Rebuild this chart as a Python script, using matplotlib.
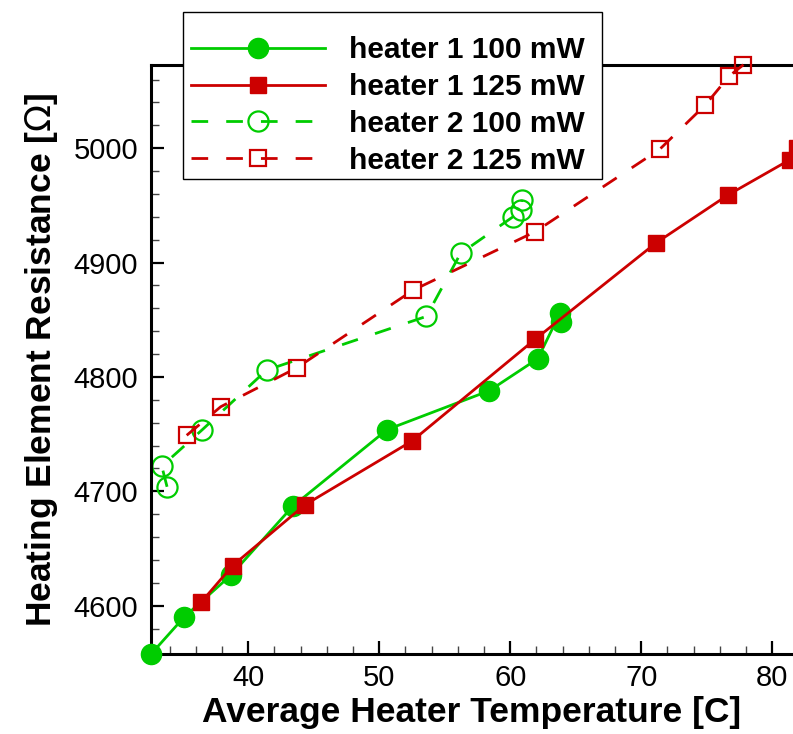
import matplotlib
matplotlib.use("Agg")
import matplotlib.pyplot as plt
from matplotlib.ticker import MultipleLocator
from matplotlib.patches import Rectangle

plt.rcParams['font.family'] = ['Liberation Sans', 'DejaVu Sans']

# average heater temperature [C] and element resistance [Ohm]
h1_100_T = [32.6, 35.1, 38.7, 43.4, 50.6, 58.4, 62.1, 63.8, 63.9]
h1_100_R = [4558, 4590, 4627, 4687, 4754, 4788, 4816, 4856, 4848]

h1_125_T = [36.4, 38.8, 44.3, 52.5, 61.9, 71.1, 76.6, 81.35, 81.9]
h1_125_R = [4603, 4635, 4688, 4744, 4833, 4917, 4959, 4990, 5000]

h2_100_T = [33.8, 33.4, 36.5, 41.4, 53.6, 56.2, 60.2, 60.8, 60.9]
h2_100_R = [4704, 4722, 4754, 4806, 4853, 4908, 4940, 4946, 4955]

h2_125_T = [35.3, 37.9, 43.7, 52.6, 61.9, 71.4, 74.9, 76.7, 77.8]
h2_125_R = [4749, 4774, 4808, 4876, 4927, 4999, 5038, 5063, 5073]

GREEN = '#00cc00'
RED = '#cc0000'

W, H = 793, 734
fig = plt.figure(figsize=(W / 100, H / 100), dpi=100)
ax = fig.add_axes([0.19, 0.109, 0.81, 0.8025])

lw = 2.0
dash = (0, (6, 6.5))
ax.plot(h1_100_T, h1_100_R, color=GREEN, lw=lw, marker='o', ms=14.5,
        label='heater 1 100 mW', clip_on=False, zorder=3)
ax.plot(h1_125_T, h1_125_R, color=RED, lw=lw, marker='s', ms=12,
        label='heater 1 125 mW', zorder=4)
ax.plot(h2_100_T, h2_100_R, color=GREEN, lw=lw, ls=dash,
        marker='o', ms=14.5, mfc='none', mec=GREEN, mew=1.6,
        label='heater 2 100 mW')
ax.plot(h2_125_T, h2_125_R, color=RED, lw=lw, ls=dash,
        marker='s', ms=11.5, mfc='none', mec=RED, mew=1.6,
        label='heater 2 125 mW', clip_on=False, zorder=3)

ax.set_xlim(32.55, 81.58)
ax.set_ylim(4557.8, 5072.8)

ax.xaxis.set_major_locator(MultipleLocator(10))
ax.xaxis.set_minor_locator(MultipleLocator(2))
ax.yaxis.set_major_locator(MultipleLocator(100))
ax.yaxis.set_minor_locator(MultipleLocator(20))

ax.tick_params(which='major', direction='in', length=9.5, width=1.6,
               labelsize=21, pad=7)
ax.tick_params(which='minor', direction='in', length=5.5, width=1.0,
               color='#444444')
ax.tick_params(axis='y', which='major', pad=9)

for side in ['left', 'bottom', 'top']:
    ax.spines[side].set_linewidth(2.2)
ax.spines['right'].set_visible(False)

ax.set_xlabel('Average Heater Temperature [C]', fontsize=25.5,
              fontweight='bold', labelpad=3)
ax.set_ylabel(r'Heating Element Resistance [$\Omega$]', fontsize=25.5,
              fontweight='bold', labelpad=10)

# legend box drawn separately so the vertical padding can exceed the side padding
box = Rectangle((182.5 / W, 1 - 179 / H), (601.7 - 182.5) / W, (179 - 12.3) / H,
                transform=fig.transFigure, facecolor='white',
                edgecolor='black', lw=1.0, zorder=5)
fig.patches.append(box)

leg = fig.legend(loc='upper left', bbox_to_anchor=(190.7 / W, 1 - 36 / H),
                 bbox_transform=fig.transFigure,
                 prop={'weight': 'bold', 'size': 21.5},
                 frameon=False, handlelength=4.5, handletextpad=0.8,
                 labelspacing=0.3, borderpad=0, borderaxespad=0)
leg.set_zorder(6)

fig.savefig('out.png', dpi=100)
